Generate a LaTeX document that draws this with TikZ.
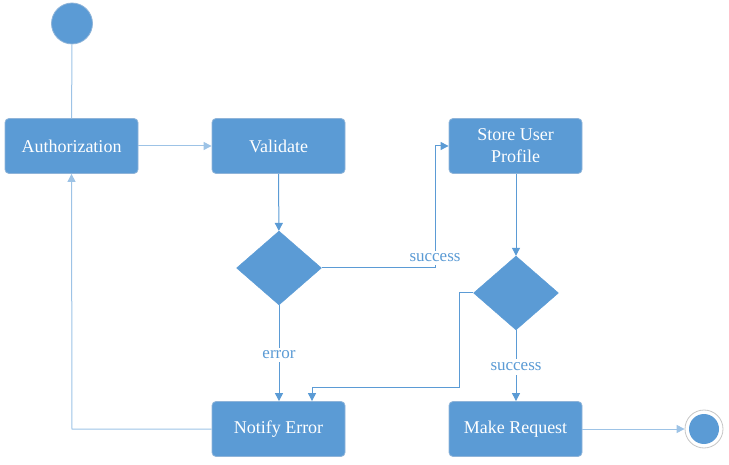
\documentclass[tikz,border=0pt]{standalone}
\usepackage{fontspec}
\setmainfont{Liberation Serif}
\usetikzlibrary{arrows.meta,shapes.geometric,calc}
\definecolor{boxblue}{HTML}{5B9BD5}
\definecolor{boxedge}{HTML}{8FB4D9}
\definecolor{lineblue}{HTML}{5B9BD5}
\definecolor{lightline}{HTML}{9DC3E6}
\tikzset{
  actbox/.style={draw=boxedge, line width=0.8pt, fill=boxblue, rounded corners=4pt,
    minimum width=133pt, minimum height=55pt, text=white, align=center,
    font=\fontsize{18}{22}\selectfont, inner sep=0pt},
  decision/.style={draw=boxblue, fill=boxblue, diamond, minimum width=85pt, minimum height=74pt, inner sep=0pt},
  flow/.style={draw=lineblue, line width=1pt, -{Triangle[length=8pt,width=8pt]}},
  lflow/.style={draw=lightline, line width=1pt},
  lbl/.style={fill=white, text=lineblue, font=\fontsize{17}{20}\selectfont, inner sep=2.5pt},
}
\begin{document}
\begin{tikzpicture}[x=1pt,y=-1pt]
\useasboundingbox (0,0) rectangle (729,465);
\node[circle, draw=boxedge, line width=0.8pt, fill=boxblue, minimum size=41pt, inner sep=0pt] (start) at (72,23.5) {};
\node[actbox] (auth) at (71.5,146) {Authorization};
\node[actbox] (val) at (278.5,146) {Validate};
\node[actbox] (store) at (515.5,146) {Store User\\Profile};
\node[decision] (d1) at (279,268) {};
\node[decision] (d2) at (516,293) {};
\node[actbox] (notify) at (278.5,429) {Notify Error};
\node[actbox] (make) at (515.5,429) {Make Request};
\node[circle, draw=gray!45, line width=0.8pt, fill=white, minimum size=38pt, inner sep=0pt] (end) at (704,429) {};
\node[circle, fill=boxblue, minimum size=30pt, inner sep=0pt] at (end) {};

\coordinate (c1) at (435,268);
\coordinate (c2) at (459,293);
\coordinate (c3) at (459,387);
\coordinate (c4) at (312,387);
\coordinate (c5) at (72,429);

\draw[lflow] (start) -- (auth);
\draw[flow, draw=lightline] (auth) -- (val);
\draw[flow] (val) -- (d1);
\draw[flow] (d1.east) -- (c1) |- (store.west);
\draw[flow] (d1.south) -- (notify.north -| d1.south);
\draw[flow] (store.south -| d2.north) -- (d2.north);
\draw[flow] (d2.west) -- (c2) -- (c3) -- (c4) -- (c4 |- notify.north);
\draw[flow] (d2.south) -- (make.north -| d2.south);
\draw[flow, draw=lightline] (notify.west) -- (c5) -- (auth.south);
\draw[flow, draw=lightline] (make.east) -- (end.west);

\node[lbl] (s1) at (435,258) {success};
\node[lbl] (err) at (279,355) {error};
\node[lbl, inner ysep=4pt] (s2) at (516,367) {success};
\end{tikzpicture}
\end{document}
